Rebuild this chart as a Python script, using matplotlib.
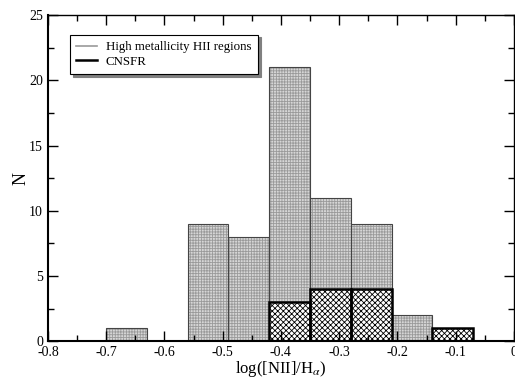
import numpy as np
import matplotlib
matplotlib.use("Agg")
import matplotlib.pyplot as plt
from matplotlib.lines import Line2D

# histogram data, bins of width 0.07 starting at -0.7
bin_left = [-0.70, -0.63, -0.56, -0.49, -0.42, -0.35, -0.28, -0.21, -0.14]
high_metal = [1, 0, 9, 8, 21, 11, 9, 2, 0]
cnsfr = [0, 0, 0, 0, 3, 4, 4, 0, 1]
width = 0.07

plt.rcParams['font.family'] = ['Liberation Serif', 'DejaVu Serif']
plt.rcParams['mathtext.fontset'] = 'stix'
plt.rcParams['hatch.linewidth'] = 0.6

fig = plt.figure(figsize=(5.15, 3.77), dpi=100)
ax = fig.add_axes([0.093, 0.095, 0.905, 0.865])

#gray textured bars (fill + hatch, then outline)
ax.bar(bin_left, high_metal, width=width, align='edge', color='#d6d6d6',
       hatch='++++++', edgecolor='#9a9a9a', linewidth=0)
ax.bar(bin_left, high_metal, width=width, align='edge', fill=False,
       edgecolor='#444444', linewidth=0.8)

#cnsfr cross hatched bars
ax.bar(bin_left, cnsfr, width=width, align='edge', color='white',
       hatch='xxxxxx', edgecolor='black', linewidth=0)
ax.bar(bin_left, cnsfr, width=width, align='edge', fill=False,
       edgecolor='black', linewidth=1.8)

ax.set_xlim(-0.8, 0)
ax.set_ylim(0, 25)
ax.set_xticks(np.arange(-0.8, 0.01, 0.1))
ax.set_xticklabels(['-0.8', '-0.7', '-0.6', '-0.5', '-0.4', '-0.3', '-0.2', '-0.1', '0'])
ax.set_xticks(np.arange(-0.75, 0, 0.1), minor=True)
ax.set_yticks([0, 5, 10, 15, 20, 25])
ax.set_yticks([2.5, 7.5, 12.5, 17.5, 22.5], minor=True)
ax.tick_params(which='both', direction='in', top=True, right=True, labelsize=10, width=1)
ax.tick_params(which='major', length=7)
ax.tick_params(which='minor', length=4)
for s in ['left', 'bottom']:
    ax.spines[s].set_linewidth(1.5)
for s in ['top', 'right']:
    ax.spines[s].set_linewidth(1.0)

ax.set_xlabel(r'log([NII]/H$_{\alpha}$)', fontsize=12, labelpad=0)
ax.set_ylabel('N', fontsize=13, labelpad=0)

handles = [Line2D([], [], color='#999999', lw=1.2),
           Line2D([], [], color='black', lw=1.8)]
leg = ax.legend(handles, ['High metallicity HII regions', 'CNSFR'],
                loc='upper left', bbox_to_anchor=(0.047, 0.94), borderaxespad=0,
                fontsize=9.3, fancybox=False, shadow={'color': '0.5', 'alpha': 1},
                framealpha=1, edgecolor='black', handlelength=1.6,
                borderpad=0.5, labelspacing=0.2, handletextpad=0.7)
leg.get_frame().set_linewidth(0.8)

fig.savefig('out.png', dpi=100)
